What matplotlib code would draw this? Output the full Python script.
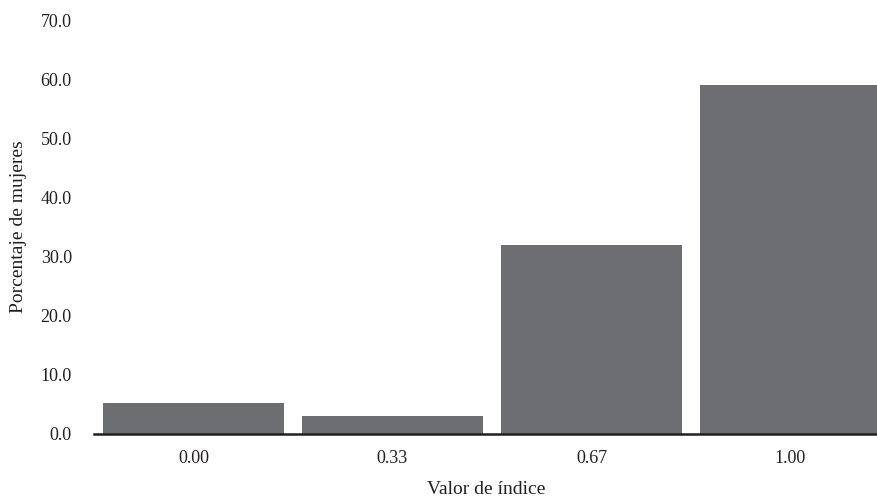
import matplotlib
matplotlib.use("Agg")
import matplotlib.pyplot as plt

categories = ["0.00", "0.33", "0.67", "1.00"]
values = [5.2, 3.0, 31.9, 59.0]
yticks = [0, 10, 20, 30, 40, 50, 60, 70]

plt.rcParams['font.family'] = ['Liberation Serif', 'DejaVu Serif']

fig = plt.figure(figsize=(8.78, 5.0), dpi=100)
ax = fig.add_axes([94/878, 66.5/500, (878-94)/878, (433.5-20)/500])

x = list(range(len(categories)))
ax.bar(x, values, width=0.91, color="#6d6e71", zorder=2)

ax.set_xlim(-0.5, 3.44)
ax.set_ylim(0, 70)
ax.set_yticks(yticks)
ax.set_yticklabels([f"{v:.1f}" for v in yticks], fontsize=13, color="#231f20")
ax.set_xticks(x)
ax.set_xticklabels(categories, fontsize=13, color="#231f20")
ax.tick_params(axis='both', length=0)
ax.tick_params(axis='x', pad=12)
ax.tick_params(axis='y', pad=16)

for s in ["top", "right", "left"]:
    ax.spines[s].set_visible(False)
ax.spines["bottom"].set_color("#231f20")
ax.spines["bottom"].set_linewidth(1.8)
ax.spines["bottom"].set_zorder(3)

ax.set_xlabel("Valor de índice", fontsize=14, color="#231f20", labelpad=10)
ax.set_ylabel("Porcentaje de mujeres", fontsize=14, color="#231f20", labelpad=10)

fig.savefig("out.png", dpi=100)
